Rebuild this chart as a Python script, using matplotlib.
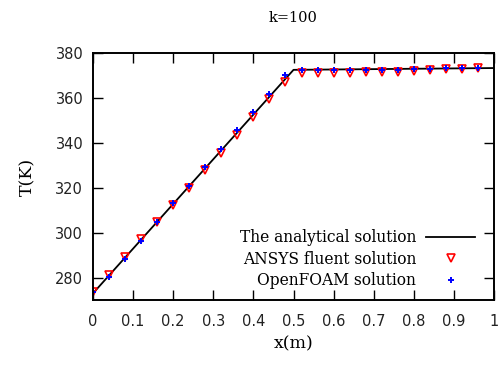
import matplotlib
matplotlib.use("Agg")
import matplotlib.pyplot as plt

# Analytical solution (piecewise linear)
x_analytical = [0.0, 0.5, 1.0]
T_analytical = [273.0, 372.5, 373.3]

# Sample locations
x_points = [0.00, 0.04, 0.08, 0.12, 0.16, 0.20, 0.24, 0.28, 0.32, 0.36, 0.40, 0.44, 0.48,
            0.52, 0.56, 0.60, 0.64, 0.68, 0.72, 0.76, 0.80, 0.84, 0.88, 0.92, 0.96]

T_ansys = [273.7, 281.1, 289.3, 297.0, 304.9, 312.3, 319.7, 327.7, 335.4, 343.5, 351.3, 359.4, 367.0,
           371.1, 371.1, 371.2, 371.3, 371.4, 371.5, 371.7, 372.1, 372.5, 372.9, 373.0, 373.2]

T_openfoam = [273.4, 280.4, 288.1, 296.4, 304.6, 313.1, 320.9, 329.1, 337.3, 345.8, 353.7, 361.9, 370.0,
              372.3, 372.3, 372.4, 372.4, 372.5, 372.5, 372.6, 372.8, 373.0, 373.2, 373.2, 373.3]

x_ticks = [0, 0.1, 0.2, 0.3, 0.4, 0.5, 0.6, 0.7, 0.8, 0.9, 1.0]
x_ticklabels = ["0", "0.1", "0.2", "0.3", "0.4", "0.5", "0.6", "0.7", "0.8", "0.9", "1"]
y_ticks = [280, 300, 320, 340, 360, 380]

serif = "DejaVu Serif"

fig = plt.figure(figsize=(4.99, 3.65), dpi=100)
ax = fig.add_axes([0.1864, 0.178, 0.990 - 0.1864, 0.8548 - 0.178])

ax.plot(x_analytical, T_analytical, color="black", lw=1.3, label="The analytical solution")
ax.plot(x_points, T_ansys, linestyle="none", marker="v", markersize=5.3, markerfacecolor="none",
        markeredgecolor="red", markeredgewidth=1.2, label="ANSYS fluent solution")
ax.plot(x_points, T_openfoam, linestyle="none", marker="+", markersize=4.5, color="blue",
        markeredgewidth=1.4, label="OpenFOAM solution")

ax.set_xlim(0, 1)
ax.set_ylim(270, 380)
ax.set_xticks(x_ticks)
ax.set_xticklabels(x_ticklabels)
ax.set_yticks(y_ticks)
ax.tick_params(direction="in", length=7, width=1.0, top=True, right=True,
               labelsize=10.5, colors="#222222")
ax.tick_params(axis="x", pad=10)
ax.tick_params(axis="y", pad=7)
ax.tick_params(color="black")
for s in ax.spines.values():
    s.set_linewidth(1.4)

ax.set_xlabel("x(m)", fontfamily=serif, fontsize=12.5, labelpad=5)
ax.set_ylabel("T(K)", fontfamily=serif, fontsize=12.5, labelpad=14)
ax.set_title("k=100", fontfamily=serif, fontsize=10.5, pad=22)

leg = ax.legend(loc="lower right", bbox_to_anchor=(0.975, 0.005), frameon=False, markerfirst=False,
                prop={"family": serif, "size": 11.2}, handlelength=3.1, handletextpad=0.65,
                labelspacing=0.3, borderaxespad=0.2)

fig.savefig("out.png", dpi=100)
